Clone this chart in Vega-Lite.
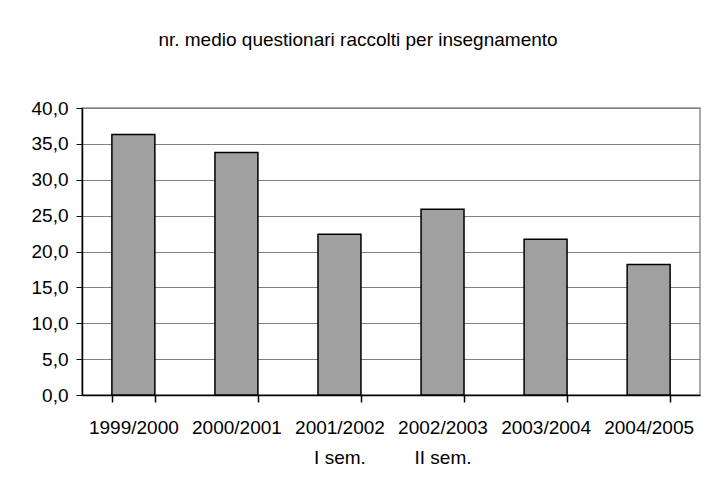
{
  "$schema": "https://vega.github.io/schema/vega-lite/v6.json",
  "width": 618,
  "height": 287,
  "autosize": "none",
  "padding": {"left": 82, "top": 108, "right": 8, "bottom": 99},
  "background": "white",
  "title": {
    "text": "nr. medio questionari raccolti per insegnamento",
    "frame": "group",
    "anchor": "middle",
    "dx": -33,
    "offset": 34,
    "baseline": "alphabetic",
    "font": "Liberation Sans",
    "fontSize": 19,
    "fontWeight": "normal",
    "color": "black"
  },
  "data": {
    "values": [
      {"anno": "1999/2000", "valore": 36.3},
      {"anno": "2000/2001", "valore": 33.8},
      {"anno": "2001/2002|I sem.", "valore": 22.4},
      {"anno": "2002/2003|II sem.", "valore": 25.9},
      {"anno": "2003/2004", "valore": 21.7},
      {"anno": "2004/2005", "valore": 18.2}
    ]
  },
  "mark": {"type": "bar", "fill": "#a0a0a0", "stroke": "black", "strokeWidth": 1.5},
  "encoding": {
    "x": {
      "field": "anno",
      "type": "nominal",
      "sort": null,
      "scale": {"paddingInner": 0.583, "paddingOuter": 0.29},
      "axis": {
        "title": null,
        "labelAngle": 0,
        "labelExpr": "isString(datum.value) ? split(datum.value, '|') : ''",
        "labelFont": "Liberation Sans",
        "labelFontSize": 19,
        "labelColor": "black",
        "labelBaseline": "top",
        "labelLineHeight": 30,
        "labelPadding": 16,
        "ticks": true,
        "tickBand": "extent",
        "tickSize": 7,
        "tickWidth": 1.5,
        "tickColor": "black",
        "domainColor": "black",
        "domainWidth": 1.5,
        "grid": false
      }
    },
    "y": {
      "field": "valore",
      "type": "quantitative",
      "scale": {"domain": [0, 40], "nice": false},
      "axis": {
        "title": null,
        "values": [0, 5, 10, 15, 20, 25, 30, 35, 40],
        "labelExpr": "replace(format(datum.value, '.1f'), '.', ',')",
        "labelFont": "Liberation Sans",
        "labelFontSize": 19,
        "labelColor": "black",
        "labelPadding": 8,
        "tickSize": 6,
        "tickColor": "black",
        "domainColor": "black",
        "domainWidth": 1.5,
        "grid": true,
        "gridColor": "#808080",
        "gridWidth": 1.2
      }
    }
  },
  "config": {
    "view": {"stroke": "#909090", "strokeWidth": 1.5}
  }
}
